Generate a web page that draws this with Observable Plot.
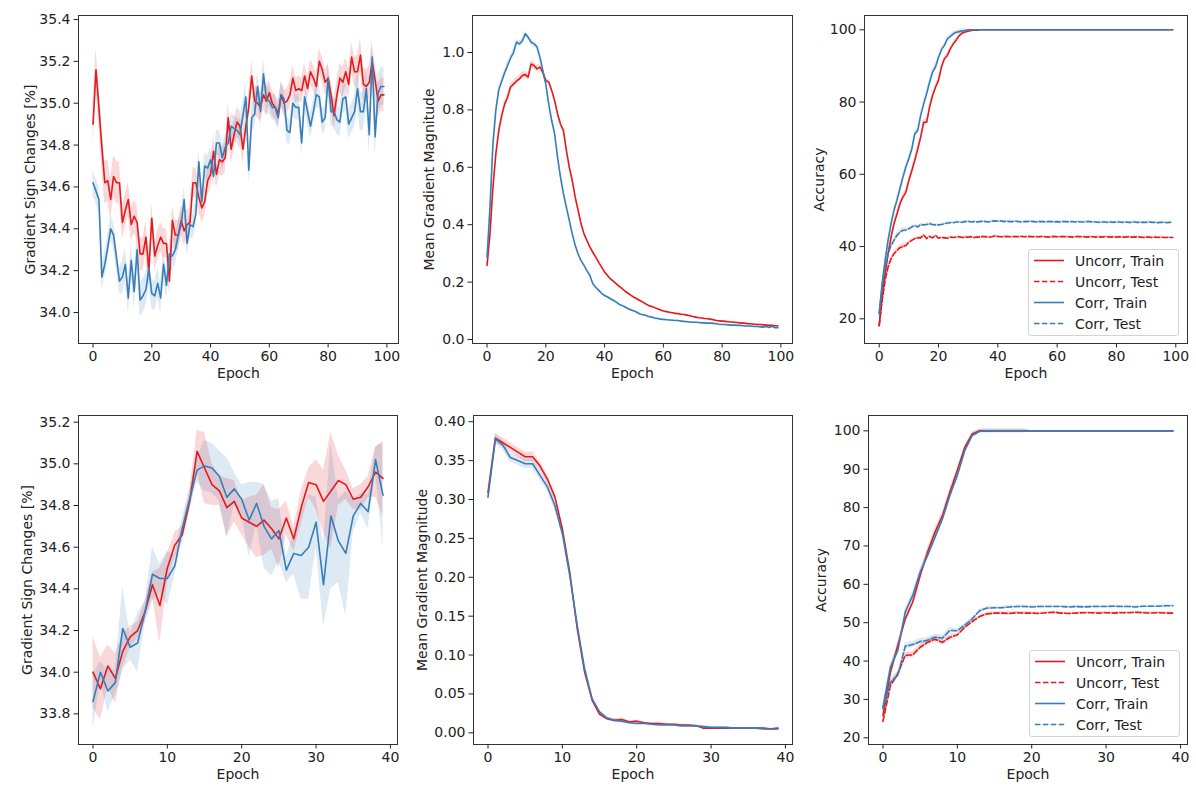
<!DOCTYPE html>
<html><head><meta charset="utf-8">
<script src="https://cdn.jsdelivr.net/npm/d3@7"></script>
<script src="https://cdn.jsdelivr.net/npm/@observablehq/plot@0.6"></script>
<style>
body{margin:0;background:#fff;}
#fig{position:relative;width:1196px;height:793px;background:#fff;font-family:"DejaVu Sans",sans-serif;}
.pan{position:absolute;}
.leg{position:absolute;border:1px solid #d4d4d4;border-radius:3px;background:rgba(255,255,255,0.85);box-sizing:border-box;}
</style></head><body><div id="fig"></div>
<script>
// ---------- data ----------
const legendLabels = ["Uncorr, Train", "Uncorr, Test", "Corr, Train", "Corr, Test"];
const xTicksTop = [0, 20, 40, 60, 80, 100];
const xTicksBottom = [0, 10, 20, 30, 40];
const yTicksTL = [34.0, 34.2, 34.4, 34.6, 34.8, 35.0, 35.2, 35.4];
const yTicksTM = [0.0, 0.2, 0.4, 0.6, 0.8, 1.0];
const yTicksTR = [20, 40, 60, 80, 100];
const yTicksBL = [33.8, 34.0, 34.2, 34.4, 34.6, 34.8, 35.0, 35.2];
const yTicksBM = [0.00, 0.05, 0.10, 0.15, 0.20, 0.25, 0.30, 0.35, 0.40];
const yTicksBR = [20, 30, 40, 50, 60, 70, 80, 90, 100];

const tlUncorr = [34.90,35.16,34.98,34.79,34.62,34.63,34.54,34.65,34.62,34.62,
34.43,34.49,34.54,34.42,34.46,34.43,34.28,34.28,34.36,34.20,
34.45,34.27,34.32,34.36,34.33,34.33,34.15,34.44,34.37,34.37,
34.44,34.39,34.42,34.43,34.62,34.62,34.55,34.50,34.53,34.63,
34.66,34.77,34.66,34.73,34.72,34.74,34.93,34.78,34.85,34.91,
34.89,34.78,34.89,34.98,35.13,35.01,35.00,34.98,35.04,35.01,
35.05,35.00,34.98,34.95,35.04,35.00,35.01,35.04,35.12,35.06,
35.07,35.06,35.13,35.07,35.15,35.12,35.08,35.20,35.16,35.10,
35.12,35.04,34.94,35.04,35.12,35.10,35.15,35.09,35.22,35.15,
35.15,35.23,35.09,35.08,35.10,35.20,35.11,35.01,35.04,35.04];
const tlCorr = [34.62,34.58,34.54,34.17,34.23,34.31,34.40,34.37,34.26,34.15,
34.17,34.23,34.07,34.25,34.10,34.30,34.06,34.08,34.11,34.21,
34.09,34.08,34.14,34.07,34.23,34.13,34.28,34.27,34.30,34.37,
34.42,34.54,34.33,34.42,34.41,34.47,34.72,34.53,34.70,34.69,
34.73,34.65,34.81,34.81,34.74,34.79,34.81,34.89,34.88,34.87,
34.85,34.94,35.03,34.68,34.93,34.95,35.08,34.96,35.14,35.02,
35.01,34.98,34.98,34.93,35.04,35.02,34.87,34.86,35.00,34.98,
34.98,34.81,35.03,34.96,34.89,34.96,35.04,35.03,34.91,34.93,
35.12,34.96,34.96,34.92,34.91,35.02,35.03,34.90,34.93,34.96,
35.07,34.96,34.96,35.07,34.85,35.22,34.84,35.05,35.08,35.08];
const tlUncorrSpread = [0.10,0.08,0.07,0.07,0.07,0.07,0.06,0.06,0.07,0.08];
const tlCorrSpread = [0.06,0.08,0.07,0.06,0.06,0.07,0.06,0.06,0.07,0.09];

const tmUncorr = [0.258,0.368,0.530,0.647,0.728,0.780,0.820,0.844,0.880,0.890,
0.900,0.908,0.920,0.923,0.914,0.960,0.955,0.943,0.949,0.931,
0.902,0.897,0.868,0.833,0.786,0.751,0.728,0.659,0.600,0.554,
0.496,0.450,0.403,0.368,0.345,0.322,0.304,0.287,0.269,0.252,
0.235,0.223,0.211,0.203,0.194,0.185,0.177,0.168,0.161,0.154,
0.147,0.142,0.136,0.130,0.124,0.118,0.115,0.111,0.107,0.103,
0.099,0.097,0.095,0.093,0.091,0.090,0.088,0.087,0.085,0.083,
0.080,0.078,0.076,0.075,0.073,0.072,0.071,0.069,0.066,0.065,
0.064,0.063,0.062,0.061,0.060,0.059,0.058,0.057,0.056,0.055,
0.054,0.053,0.052,0.052,0.051,0.050,0.049,0.049,0.048,0.047];
const tmCorr = [0.287,0.460,0.680,0.800,0.870,0.900,0.930,0.955,0.980,1.000,
1.036,1.030,1.040,1.065,1.053,1.036,1.030,1.020,0.984,0.937,
0.890,0.820,0.763,0.717,0.635,0.566,0.508,0.461,0.415,0.368,
0.328,0.298,0.275,0.258,0.240,0.223,0.194,0.182,0.171,0.161,
0.153,0.148,0.142,0.136,0.130,0.122,0.118,0.113,0.107,0.103,
0.099,0.095,0.089,0.086,0.084,0.080,0.078,0.075,0.073,0.071,
0.070,0.069,0.068,0.067,0.066,0.066,0.064,0.063,0.062,0.061,
0.060,0.060,0.059,0.058,0.058,0.057,0.057,0.056,0.055,0.053,
0.052,0.052,0.051,0.050,0.050,0.049,0.049,0.048,0.047,0.047,
0.046,0.045,0.045,0.044,0.043,0.045,0.042,0.046,0.041,0.041];
const tmUncorrSpread = [0.012,0.012,0.008,0.005,0.004,0.003,0.002,0.002,0.002,0.002];
const tmCorrSpread = [0.012,0.010,0.008,0.005,0.004,0.003,0.002,0.002,0.002,0.002];

const trUncorrTrain = [18.1,26.0,32.4,37.9,42.6,46.3,49.0,51.8,53.7,55.0,
58.3,61.0,63.8,67.0,70.3,74.4,74.4,78.6,81.8,84.1,
86.0,89.7,92.0,92.9,94.7,96.1,97.2,98.4,99.1,99.4,
99.6,99.8,99.9,99.9,100,100,100,100,100,100,
100,100,100,100,100,100,100,100,100,100,
100,100,100,100,100,100,100,100,100,100,
100,100,100,100,100,100,100,100,100,100,
100,100,100,100,100,100,100,100,100,100,
100,100,100,100,100,100,100,100,100,100,
100,100,100,100,100,100,100,100,100,100];
const trUncorrTest = [18.1,25.0,30.6,34.3,36.6,38.0,38.9,39.7,40.0,40.3,
41.2,41.7,42.2,42.4,42.4,43.2,42.2,42.8,42.4,43.1,
42.3,42.5,42.4,42.3,42.6,42.5,42.6,42.7,42.5,42.6,
42.6,42.7,42.5,42.6,42.6,42.8,42.7,42.6,42.7,42.9,
42.8,42.7,42.7,42.8,42.7,42.7,42.8,42.7,42.8,42.7,
42.7,42.8,42.7,42.7,42.7,42.8,42.7,42.6,42.7,42.8,
42.7,42.7,42.8,42.7,42.7,42.6,42.7,42.8,42.7,42.7,
42.6,42.7,42.7,42.6,42.7,42.6,42.7,42.7,42.6,42.7,
42.6,42.7,42.6,42.6,42.7,42.6,42.6,42.7,42.6,42.5,
42.6,42.6,42.5,42.6,42.5,42.6,42.5,42.5,42.5,42.5];
const trCorrTrain = [21.4,29.7,36.1,41.7,46.3,50.0,52.8,56.0,59.2,62.0,
64.3,67.0,71.2,72.1,76.3,79.5,82.3,85.5,88.3,89.7,
92.4,94.5,95.7,97.5,98.2,98.9,99.3,99.5,99.7,99.8,
100,100,100,100,100,100,100,100,100,100,
100,100,100,100,100,100,100,100,100,100,
100,100,100,100,100,100,100,100,100,100,
100,100,100,100,100,100,100,100,100,100,
100,100,100,100,100,100,100,100,100,100,
100,100,100,100,100,100,100,100,100,100,
100,100,100,100,100,100,100,100,100,100];
const trCorrTest = [21.4,28.8,34.3,38.0,40.3,41.7,43.1,44.0,44.5,44.6,
44.9,45.4,45.8,45.4,46.1,46.0,46.1,46.3,46.1,46.0,
46.0,46.1,46.3,46.5,46.6,46.6,46.8,46.8,46.7,46.9,
47.0,46.8,46.9,46.8,46.9,47.0,46.9,46.8,47.0,47.1,
47.0,47.1,46.9,47.0,46.9,46.9,47.0,46.9,46.8,46.9,
46.9,47.0,46.9,46.8,46.9,46.9,46.8,46.9,46.9,46.8,
46.9,46.8,46.9,46.9,46.8,46.9,46.8,46.9,46.8,46.8,
46.9,46.9,46.8,46.8,46.7,46.8,46.8,46.7,46.8,46.7,
46.8,46.8,46.7,46.8,46.7,46.7,46.8,46.7,46.7,46.7,
46.7,46.8,46.7,46.7,46.6,46.7,46.7,46.6,46.7,46.7];
const trTrainSpread = [0.9,0.9,0.6,0.05,0,0,0,0,0,0];
const trTestSpread = [0.7,0.4,0.3,0.3,0.3,0.3,0.3,0.3,0.3,0.3];

const blUncorr = [34.00,33.92,34.03,33.97,34.10,34.17,34.20,34.29,34.42,34.32,
34.50,34.61,34.66,34.82,35.06,34.98,34.90,34.87,34.79,34.82,
34.74,34.72,34.70,34.73,34.69,34.64,34.74,34.64,34.79,34.91,
34.90,34.82,34.87,34.92,34.90,34.83,34.84,34.89,34.96,34.93];
const blCorr = [33.86,34.00,33.91,33.95,34.21,34.12,34.14,34.29,34.47,34.45,
34.45,34.51,34.69,34.83,34.97,34.99,34.98,34.94,34.84,34.88,
34.83,34.73,34.81,34.70,34.64,34.68,34.49,34.57,34.56,34.60,
34.72,34.42,34.75,34.63,34.57,34.75,34.81,34.77,35.02,34.85];
const blUncorrSpread = [0.17,0.15,0.10,0.12,0.08,0.05,0.04,0.05,0.06,0.18,
0.07,0.06,0.04,0.05,0.10,0.17,0.10,0.07,0.14,0.10,
0.08,0.12,0.15,0.17,0.10,0.14,0.08,0.06,0.08,0.07,
0.12,0.15,0.28,0.12,0.07,0.05,0.06,0.05,0.12,0.18];
const blCorrSpread = [0.13,0.05,0.10,0.06,0.20,0.06,0.14,0.05,0.13,0.07,
0.13,0.05,0.05,0.05,0.06,0.12,0.12,0.12,0.19,0.08,
0.07,0.18,0.10,0.20,0.18,0.15,0.06,0.10,0.21,0.25,
0.12,0.20,0.35,0.20,0.30,0.08,0.05,0.08,0.06,0.25];

const bmUncorr = [0.309,0.379,0.373,0.367,0.361,0.355,0.355,0.343,0.326,0.303,
0.262,0.206,0.134,0.078,0.042,0.024,0.018,0.016,0.017,0.014,
0.015,0.013,0.012,0.012,0.011,0.011,0.010,0.010,0.009,0.006,
0.006,0.006,0.006,0.006,0.006,0.006,0.006,0.006,0.005,0.006];
const bmCorr = [0.303,0.378,0.370,0.354,0.350,0.346,0.346,0.331,0.316,0.292,
0.256,0.202,0.138,0.082,0.044,0.027,0.019,0.016,0.015,0.013,
0.012,0.012,0.011,0.010,0.010,0.010,0.009,0.009,0.009,0.008,
0.007,0.007,0.007,0.006,0.006,0.006,0.006,0.005,0.005,0.005];
const bmSpread = [0.006,0.002,0.001,0.001];

const brUncorrTrain = [25.8,37.1,44.1,51.0,55.4,62.3,68.4,73.6,77.9,84.0,
89.7,95.7,99.2,100,100,100,100,100,100,100,
100,100,100,100,100,100,100,100,100,100,
100,100,100,100,100,100,100,100,100,100];
const brUncorrTest = [24.3,33.6,36.7,41.5,41.6,43.6,44.9,45.7,44.9,46.2,
46.8,48.8,50.3,51.6,52.3,52.5,52.5,52.4,52.6,52.5,
52.5,52.4,52.6,52.7,52.5,52.4,52.5,52.6,52.6,52.5,
52.6,52.5,52.6,52.6,52.7,52.6,52.5,52.6,52.5,52.5];
const brCorrTrain = [28.0,38.4,42.8,52.8,57.1,63.2,67.5,72.3,77.1,83.2,
88.4,94.9,98.8,99.9,100,100,100,100,100,100,
100,100,100,100,100,100,100,100,100,100,
100,100,100,100,100,100,100,100,100,100];
const brCorrTest = [27.6,34.5,36.3,43.9,44.3,45.1,45.4,46.2,46.0,48.0,
47.9,49.4,51.0,53.1,53.8,53.9,53.9,54.1,54.2,54.2,
54.1,54.2,54.2,54.2,54.2,54.1,54.2,54.1,54.2,54.2,
54.2,54.3,54.2,54.2,54.1,54.3,54.3,54.3,54.4,54.4];
const brTrainSpread = [1.0,0.5,0.05,0.05];
const brTestSpread = [0.8,0.4,0.3,0.3];

// ---------- helpers ----------
const RED = "#e41a1c", BLUE = "#377eb8";
const DASH = "5.5,2.4";
function table(vals, spreads, step) {
  return vals.map((v, i) => {
    const s = spreads[Math.floor(i / step)];
    return {x: i, y: v, lo: v - s, hi: v + s};
  });
}
const fig = document.getElementById("fig");
const ML = 70, MR = 6, MT = 6, MB = 46;

function panel(p) {
  const marks = [];
  for (const s of p.series) {
    marks.push(Plot.areaY(s.data, {x: "x", y1: "lo", y2: "hi", fill: s.color, fillOpacity: 0.17}));
  }
  for (const s of p.series) {
    marks.push(Plot.lineY(s.data, {x: "x", y: "y", stroke: s.color, strokeWidth: 1.6, strokeDasharray: s.dash || null}));
  }
  marks.push(Plot.frame({stroke: "#333", strokeWidth: 1}));
  marks.push(Plot.axisX({ticks: p.xTicks, tickFormat: d => String(d), tickSize: 4.5, tickPadding: 3, label: null, fontSize: 14}));
  marks.push(Plot.axisY({ticks: p.yTicks, tickFormat: d3.format(p.fmt), tickSize: 4.5, tickPadding: 3.5, label: null, fontSize: 14}));
  marks.push(Plot.text(["Epoch"], {text: d => d, frameAnchor: "bottom", lineAnchor: "middle", textAnchor: "middle", dy: 30, fontSize: 14}));
  marks.push(Plot.text([p.yLabel], {text: d => d, frameAnchor: "left", lineAnchor: "middle", textAnchor: "middle", dx: p.labDx, rotate: -90, fontSize: 14}));
  const svg = Plot.plot({
    width: p.w + ML + MR, height: p.h + MT + MB,
    marginLeft: ML, marginRight: MR, marginTop: MT, marginBottom: MB,
    x: {domain: p.xDomain}, y: {domain: p.yDomain},
    style: {fontFamily: "DejaVu Sans, sans-serif", fontSize: "14px", color: "#222", background: "transparent", overflow: "visible"},
    marks
  });
  const div = document.createElement("div");
  div.className = "pan";
  div.style.left = (p.left - ML) + "px";
  div.style.top = (p.top - MT) + "px";
  div.appendChild(svg);
  fig.appendChild(div);
}

function legend(left, top) {
  const entries = [
    {label: legendLabels[0], color: RED, dash: null},
    {label: legendLabels[1], color: RED, dash: DASH},
    {label: legendLabels[2], color: BLUE, dash: null},
    {label: legendLabels[3], color: BLUE, dash: DASH}
  ];
  const div = document.createElement("div");
  div.className = "leg";
  div.style.left = left + "px"; div.style.top = top + "px";
  div.style.width = "151px"; div.style.height = "87px";
  const svg = d3.create("svg").attr("width", 149).attr("height", 85)
    .style("font-family", "DejaVu Sans, sans-serif").style("font-size", "14px");
  entries.forEach((e, i) => {
    const y = 10.5 + i * 21;
    svg.append("line").attr("x1", 5).attr("x2", 35).attr("y1", y).attr("y2", y)
      .attr("stroke", e.color).attr("stroke-width", 1.6).attr("stroke-dasharray", e.dash);
    svg.append("text").attr("x", 46).attr("y", y).attr("dy", "0.36em").attr("fill", "#222").text(e.label);
  });
  div.appendChild(svg.node());
  fig.appendChild(div);
}

// ---------- panels ----------
panel({left: 78, top: 15, w: 320, h: 328, xDomain: [-4.95, 103.95], xTicks: xTicksTop,
  yDomain: [33.852, 35.419], yTicks: yTicksTL, fmt: ".1f", yLabel: "Gradient Sign Changes [%]", labDx: -48,
  series: [{data: table(tlUncorr, tlUncorrSpread, 10), color: RED}, {data: table(tlCorr, tlCorrSpread, 10), color: BLUE}]});
panel({left: 472, top: 15, w: 320, h: 328, xDomain: [-4.95, 103.95], xTicks: xTicksTop,
  yDomain: [-0.014, 1.129], yTicks: yTicksTM, fmt: ".1f", yLabel: "Mean Gradient Magnitude", labDx: -43,
  series: [{data: table(tmUncorr, tmUncorrSpread, 10), color: RED}, {data: table(tmCorr, tmCorrSpread, 10), color: BLUE}]});
panel({left: 864, top: 15, w: 323, h: 328, xDomain: [-4.95, 103.95], xTicks: xTicksTop,
  yDomain: [13.16, 103.96], yTicks: yTicksTR, fmt: "d", yLabel: "Accuracy", labDx: -45,
  series: [{data: table(trUncorrTrain, trTrainSpread, 10), color: RED},
           {data: table(trUncorrTest, trTestSpread, 10), color: RED, dash: DASH},
           {data: table(trCorrTrain, trTrainSpread, 10), color: BLUE},
           {data: table(trCorrTest, trTestSpread, 10), color: BLUE, dash: DASH}]});
panel({left: 78, top: 415, w: 319, h: 329, xDomain: [-1.95, 40.95], xTicks: xTicksBottom,
  yDomain: [33.653, 35.232], yTicks: yTicksBL, fmt: ".1f", yLabel: "Gradient Sign Changes [%]", labDx: -51,
  series: [{data: table(blUncorr, blUncorrSpread, 1), color: RED}, {data: table(blCorr, blCorrSpread, 1), color: BLUE}]});
panel({left: 473, top: 415, w: 319, h: 329, xDomain: [-1.95, 40.95], xTicks: xTicksBottom,
  yDomain: [-0.015, 0.408], yTicks: yTicksBM, fmt: ".2f", yLabel: "Mean Gradient Magnitude", labDx: -51,
  series: [{data: table(bmUncorr, bmSpread, 10), color: RED}, {data: table(bmCorr, bmSpread, 10), color: BLUE}]});
panel({left: 868, top: 415, w: 319, h: 329, xDomain: [-1.95, 40.95], xTicks: xTicksBottom,
  yDomain: [18.25, 104.0], yTicks: yTicksBR, fmt: "d", yLabel: "Accuracy", labDx: -47,
  series: [{data: table(brUncorrTrain, brTrainSpread, 10), color: RED},
           {data: table(brUncorrTest, brTestSpread, 10), color: RED, dash: DASH},
           {data: table(brCorrTrain, brTrainSpread, 10), color: BLUE},
           {data: table(brCorrTest, brTestSpread, 10), color: BLUE, dash: DASH}]});
legend(1028, 249);
legend(1029, 650);
</script></body></html>
